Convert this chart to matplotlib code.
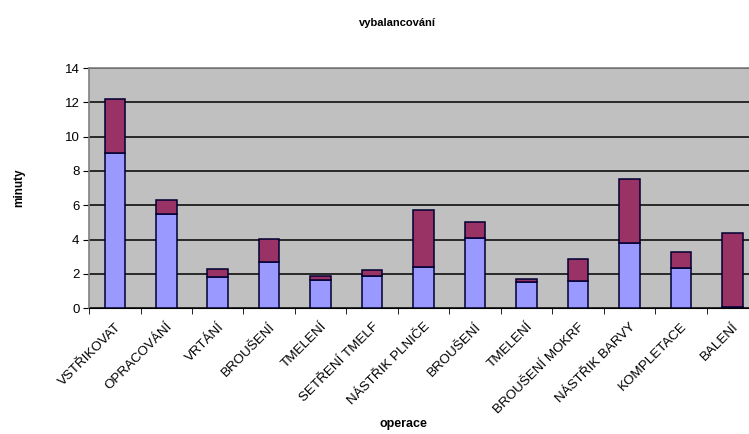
import numpy as np
import matplotlib.pyplot as plt
from matplotlib.ticker import FixedLocator

plt.rcParams['font.family'] = ['Liberation Sans', 'DejaVu Sans']

# operations and times (minutes)
operace = ["VSTŘIKOVAT", "OPRACOVÁNÍ", "VRTÁNÍ", "BROUŠENÍ", "TMELENÍ",
           "SETŘENÍ TMELF", "NÁSTŘIK PLNIČE", "BROUŠENÍ", "TMELENÍ",
           "BROUŠENÍ MOKRF", "NÁSTŘIK BARVY", "KOMPLETACE", "BALENÍ"]
cas_1 = [9.05, 5.47, 1.8, 2.72, 1.62, 1.85, 2.4, 4.08, 1.5, 1.57, 3.8, 2.35, 0.05]
cas_2 = [3.15, 0.82, 0.5, 1.32, 0.25, 0.4, 3.3, 0.96, 0.22, 1.32, 3.72, 0.91, 4.34]

fig = plt.figure(figsize=(7.49, 4.34), dpi=100)
ax = fig.add_axes([0.119, 0.290, 0.893, 0.553])
ax.set_facecolor('#C0C0C0')

x = np.arange(len(operace))
w = 0.4
ax.bar(x, cas_1, w, color='#9999FF', edgecolor='#000033', linewidth=1.1, zorder=3)
ax.bar(x, cas_2, w, bottom=cas_1, color='#993366', edgecolor='#000033', linewidth=1.1, zorder=3)

ax.set_ylim(0, 14)
ax.set_xlim(-0.5, len(operace) - 0.5)
ax.set_yticks(range(0, 15, 2))
ax.yaxis.grid(True, color='black', linewidth=1.1, zorder=1)
ax.set_axisbelow(True)

# labels at category centres, tick marks between categories
ax.set_xticks(x)
ax.set_xticklabels(operace, rotation=45, ha='right', va='top',
                   rotation_mode='anchor', fontsize=9.6)
ax.tick_params(axis='x', which='major', length=0, pad=9)
ax.xaxis.set_minor_locator(FixedLocator(np.arange(-0.5, len(operace), 1.0)))
ax.tick_params(axis='x', which='minor', length=4, color='black', direction='out')
ax.tick_params(axis='y', length=4, direction='out', labelsize=9.5, pad=3)

for s in ['top', 'left']:
    ax.spines[s].set_color('#808080')
    ax.spines[s].set_linewidth(1.2)
ax.spines['right'].set_visible(False)
ax.spines['bottom'].set_color('black')

ax.set_ylabel('minuty', fontsize=8.5, fontweight='bold')
ax.yaxis.set_label_coords(-0.095, 0.5)
fig.text(0.539, 0.016, 'operace', fontsize=9, fontweight='bold', ha='center')
fig.text(0.531, 0.940, 'vybalancování', fontsize=8, fontweight='bold', ha='center')

fig.savefig('out.png', dpi=100)
